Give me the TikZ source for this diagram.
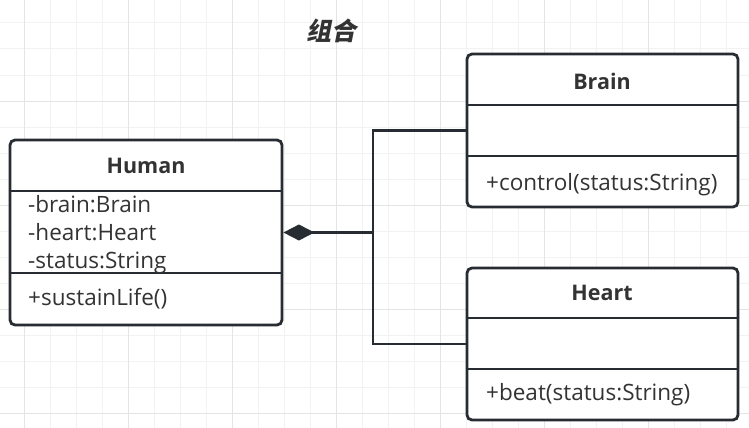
\documentclass[tikz,border=0pt]{standalone}
\usepackage{fontspec}
\setmainfont{Open Sans}
\newfontfamily\cjk[FakeSlant=0.2]{Noto Sans CJK SC}
\usetikzlibrary{arrows.meta}
\definecolor{ink}{HTML}{262C32}
\definecolor{txt}{HTML}{333333}
\definecolor{gridminor}{HTML}{F2F2F2}
\definecolor{gridmajor}{HTML}{E4E4E4}
\begin{document}
\begin{tikzpicture}[x=1pt,y=-1pt,
  umlbox/.style={draw=ink, line width=2.8pt, rounded corners=5pt, fill=white, inner sep=0pt},
  cname/.style={font=\bfseries\fontsize{21.5}{24}\selectfont, text=txt, inner sep=0pt},
  member/.style={font=\fontsize{22.5}{28}\selectfont, text=txt, anchor=base west, inner sep=0pt},
  sepline/.style={draw=ink, line width=2.8pt},
  link/.style={draw=ink, line width=2.6pt, line join=miter},
  titletext/.style={font=\cjk\bfseries\fontsize{25}{28}\selectfont, text=txt, inner sep=0pt}]
\useasboundingbox (0,0) rectangle (749,428);
\fill[white] (0,0) rectangle (749,428);
% grid
\foreach \i in {-1,...,28} {
  \draw[gridminor, line width=1pt] ({24.5+26*\i},0) -- ({24.5+26*\i},428);
}
\foreach \i in {-1,...,16} {
  \draw[gridminor, line width=1pt] (0,{23+26*\i}) -- (749,{23+26*\i});
}
\foreach \i in {0,...,7} {
  \draw[gridmajor, line width=1pt] ({24.5+104*\i},0) -- ({24.5+104*\i},428);
}
\foreach \i in {0,...,4} {
  \draw[gridmajor, line width=1pt] (0,{-3+104*\i}) -- (749,{-3+104*\i});
}
% title
\node[titletext] (title) at (331,31) {组合};
% Human
\node[umlbox, minimum width=272pt, minimum height=185pt] (human) at (146,232.5) {};
\draw[sepline] (human.west |- 0,191) -- (human.east |- 0,191);
\draw[sepline] (human.west |- 0,273) -- (human.east |- 0,273);
\node[cname] (humant) at (146,166) {Human};
\node[member] (ha1) at (28,212) {-brain:Brain};
\node[member] (ha2) at (28,240) {-heart:Heart};
\node[member] (ha3) at (28,268) {-status:String};
\node[member] (hm1) at (28,305) {+sustainLife()};
% Brain
\node[umlbox, minimum width=271pt, minimum height=153pt] (brain) at (602.5,130.5) {};
\draw[sepline] (brain.west |- 0,105) -- (brain.east |- 0,105);
\draw[sepline] (brain.west |- 0,156) -- (brain.east |- 0,156);
\node[cname] (braint) at (602,81) {Brain};
\node[member] (bm1) at (486,190) {+control(status:String)};
% Heart
\node[umlbox, minimum width=271pt, minimum height=152pt] (heart) at (602.5,344) {};
\draw[sepline] (heart.west |- 0,318) -- (heart.east |- 0,318);
\draw[sepline] (heart.west |- 0,369) -- (heart.east |- 0,369);
\node[cname] (heartt) at (602,293) {Heart};
\node[member] (km1) at (486,400) {+beat(status:String)};
% connectors
\coordinate (j) at (373,232.5);
\draw[link, {Diamond[length=31pt,width=16pt,fill=ink]}-] (human.east) -- (j);
\draw[link] (brain.west) -| (j) |- (heart.west);
\end{tikzpicture}
\end{document}
